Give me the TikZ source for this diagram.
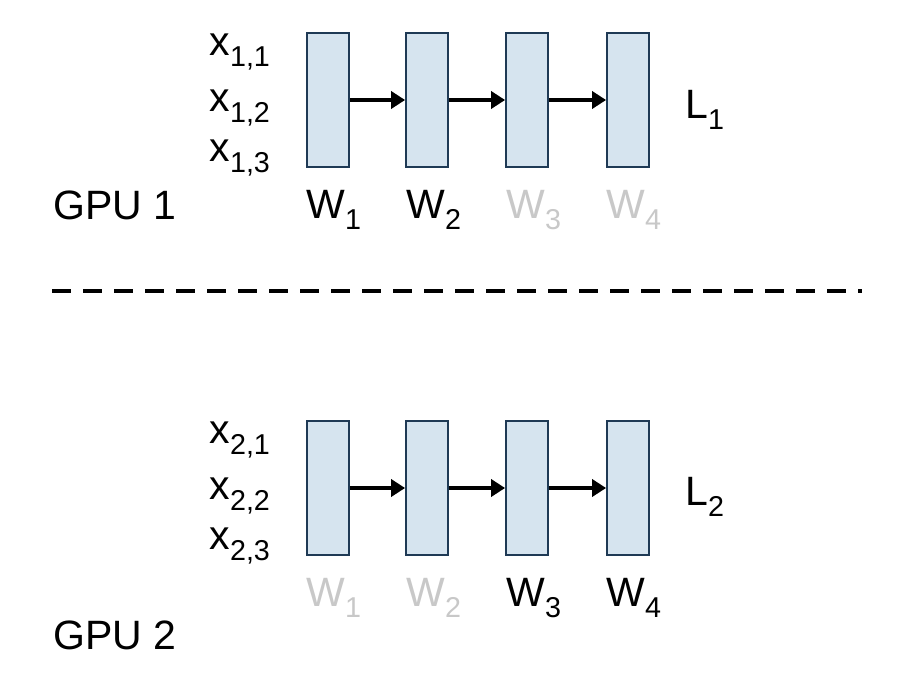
\documentclass[tikz,border=0pt]{standalone}
\usepackage{fontspec}
\setmainfont{Liberation Sans}
\usetikzlibrary{arrows.meta}
\definecolor{boxfill}{HTML}{D6E4EF}
\definecolor{boxdraw}{HTML}{1F3A55}
\definecolor{faded}{HTML}{C8C8C8}
\newcommand{\sbs}[1]{\textsubscript{#1}}
\begin{document}
\begin{tikzpicture}[x=1pt,y=-1pt,
  lay/.style={draw=boxdraw,fill=boxfill,line width=1.8pt,minimum width=42pt,minimum height=134pt,inner sep=0pt},
  arr/.style={line width=4.5pt,-{Triangle[length=14pt,width=17pt]}},
  txt/.style={font=\fontsize{41}{44}\selectfont,inner sep=0pt}]
\useasboundingbox (0,0) rectangle (900,690);
\foreach \r/\y in {a/100,b/488}{
  \node[lay] (\r1) at (328,\y) {};
  \node[lay] (\r2) at (427,\y) {};
  \node[lay] (\r3) at (527,\y) {};
  \node[lay] (\r4) at (628,\y) {};
  \draw[arr] (\r1.east) -- (\r2.west);
  \draw[arr] (\r2.east) -- (\r3.west);
  \draw[arr] (\r3.east) -- (\r4.west);
}
% top
\node[txt] (xa1) at (240,52) {x\sbs{1,1}};
\node[txt] (xa2) at (240,108) {x\sbs{1,2}};
\node[txt] (xa3) at (240,158) {x\sbs{1,3}};
\node[txt] (La) at (705,110) {L\sbs{1}};
\node[txt,anchor=west] (ga) at (53,205) {GPU 1};
\node[txt] (wa1) at (334,210) {W\sbs{1}};
\node[txt] (wa2) at (434,210) {W\sbs{2}};
\node[txt,faded] (wa3) at (534,210) {W\sbs{3}};
\node[txt,faded] (wa4) at (634,210) {W\sbs{4}};
% divider
\coordinate (d1) at (52,291); \coordinate (d2) at (862,291);
\draw[line width=3.5pt,dash pattern=on 19pt off 12pt] (d1) -- (d2);
% bottom
\node[txt] (xb1) at (240,440) {x\sbs{2,1}};
\node[txt] (xb2) at (240,496) {x\sbs{2,2}};
\node[txt] (xb3) at (240,546) {x\sbs{2,3}};
\node[txt] (Lb) at (705,497) {L\sbs{2}};
\node[txt,anchor=west] (gb) at (53,635) {GPU 2};
\node[txt,faded] (wb1) at (334,598) {W\sbs{1}};
\node[txt,faded] (wb2) at (434,598) {W\sbs{2}};
\node[txt] (wb3) at (534,598) {W\sbs{3}};
\node[txt] (wb4) at (634,598) {W\sbs{4}};
\end{tikzpicture}
\end{document}
